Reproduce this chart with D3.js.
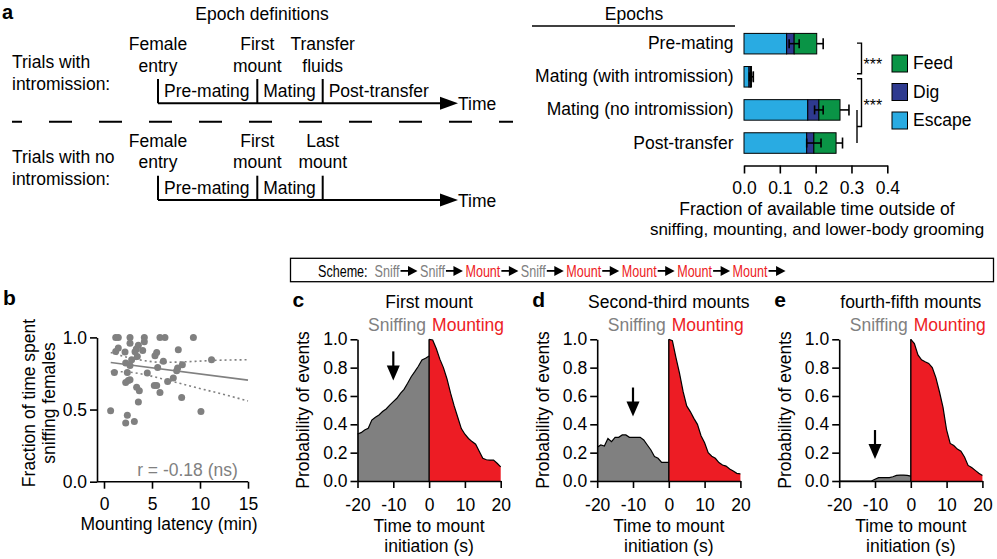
<!DOCTYPE html>
<html><head><meta charset="utf-8">
<script src="https://cdn.jsdelivr.net/npm/d3@7"></script>
<style>
body{margin:0;background:#fff;}
svg{display:block;font-family:"Liberation Sans",Arial,Helvetica,sans-serif;}
</style></head><body>
<svg id="c" width="997" height="559"></svg>
<script>
// ---------------- DATA ----------------
// Panel a (right): stacked bars
const epochs = ["Pre-mating", "Mating (with intromission)", "Mating (no intromission)", "Post-transfer"];
const escapeVals = [0.119, 0.014, 0.178, 0.175];
const digVals    = [0.021, 0.004, 0.031, 0.020];
const feedVals   = [0.063, 0.003, 0.059, 0.062];
const totalErr   = [0.018, 0.005, 0.025, 0.018];
const digErr     = [0.014, 0.003, 0.012, 0.020];
const barTicks   = [0, 0.1, 0.2, 0.3, 0.4];
const legendNames = ["Feed", "Dig", "Escape"];

// Panel b: scatter
const latency = [1.22,1.49,2.71,2.71,4.2,4.2,5.83,6.35,9.31,3.58,3.37,3.23,1.49,1.22,2.19,4.03,7.74,5.49,5.31,3.47,2.88,6.18,2.26,2.71,11.2,8.16,5.59,7.67,7.57,1.08,2.43,4.51,7.22,6.63,2.53,2.26,2.71,5.24,5.49,3.4,3.68,5.83,8.09,3.58,0.69,10.1,2.43,3.16,2.26];
const sniffFrac = [1.0,1.0,1.0,0.96,1.0,0.97,1.0,1.0,1.0,0.945,0.92,0.90,0.926,0.903,0.898,0.91,0.915,0.896,0.873,0.868,0.845,0.834,0.822,0.806,0.845,0.81,0.792,0.788,0.769,0.757,0.757,0.753,0.718,0.695,0.702,0.688,0.707,0.667,0.667,0.654,0.63,0.619,0.584,0.552,0.492,0.487,0.46,0.418,0.406];
const regX = [0.7, 15];
const regY = [0.826, 0.704];
const ciX = [0.7, 2.5, 4.3, 6, 9.5, 11.2, 15];
const ciUpper = [0.896, 0.861, 0.838, 0.827, 0.834, 0.840, 0.845];
const ciLower = [0.764, 0.760, 0.741, 0.714, 0.654, 0.626, 0.560];
const bXTicks = [0, 5, 10, 15];
const bYTicks = [0, 0.5, 1.0];

// Panels c-e: event-aligned probabilities
const tSniff = [-20,-19,-18,-17,-16,-15,-14,-13,-12,-11,-10,-9,-8,-7,-6,-5,-4,-3,-2,-1,0];
const tMount = [0,1,2,3,4,5,6,7,8,9,10,11,12,13,14,15,16,17,18,19,20];
const sniffC = [0.332,0.341,0.36,0.372,0.43,0.45,0.466,0.49,0.508,0.536,0.56,0.584,0.619,0.647,0.69,0.736,0.772,0.81,0.854,0.866,0.882];
const mountC = [1.0,0.995,0.935,0.86,0.8,0.72,0.62,0.53,0.45,0.37,0.33,0.30,0.278,0.26,0.21,0.16,0.15,0.148,0.147,0.125,0.10];
const sniffD = [0.238,0.254,0.247,0.30,0.278,0.308,0.308,0.325,0.325,0.308,0.308,0.308,0.308,0.29,0.254,0.219,0.172,0.16,0.132,0.132,0.132];
const mountD = [1.0,0.99,0.87,0.76,0.63,0.53,0.49,0.442,0.40,0.32,0.27,0.20,0.175,0.16,0.13,0.113,0.105,0.085,0.07,0.054,0.05];
const sniffE = [0,0,0,0,0,0,0,0,0,0,0.012,0.024,0.024,0.024,0.024,0.03,0.04,0.042,0.042,0.04,0.035];
const mountE = [1.0,0.97,0.89,0.855,0.842,0.83,0.80,0.73,0.63,0.52,0.36,0.265,0.25,0.225,0.21,0.17,0.11,0.095,0.075,0.055,0.038];
const panelTitles = ["First mount", "Second-third mounts", "fourth-fifth mounts"];
const panelLetters = ["c", "d", "e"];
const arrowTips = [0.71, 0.455, 0.155];
const cdeXTicks = [-20, -10, 0, 10, 20];
const cdeYTicks = [0, 0.2, 0.4, 0.6, 0.8, 1.0];

// Scheme tokens
const schemeTokens = ["Sniff","Sniff","Mount","Sniff","Mount","Mount","Mount","Mount"];

// ---------------- STYLE ----------------
const GRAY = "#808080", RED = "#ed1c24";
const C_ESC = "#29abe2", C_DIG = "#2e3a8f", C_FEED = "#0a9446";
const FS = 17.5;
const svg = d3.select("#c");
const hyphenFmt = (d) => String(d);

function txt(g, x, y, s, o = {}) {
  const t = g.append("text").attr("x", x).attr("y", y).text(s)
    .attr("font-size", o.size || FS).attr("text-anchor", o.anchor || "start")
    .attr("fill", o.fill || "#000");
  if (o.weight) t.attr("font-weight", o.weight);
  if (o.transform) t.attr("transform", o.transform);
  return t;
}
function styleAxis(g, size) {
  g.select(".domain").attr("stroke", "#000").attr("stroke-width", 1.6);
  g.selectAll(".tick line").attr("stroke", "#000").attr("stroke-width", 1.6);
  g.selectAll(".tick text").attr("font-size", size || FS).attr("fill", "#000")
    .attr("font-family", '"Liberation Sans", Arial, sans-serif');
}

// ---------------- PANEL a (left) ----------------
const gA = svg.append("g");
txt(gA, 2, 18.5, "a", {size: 20, weight: "bold"});
txt(gA, 262, 19.5, "Epoch definitions", {anchor: "middle"});
const eventX = [158, 257.3, 322.7];
const defRows = [
  {labels: ["Trials with", "intromission:"], labelY: [68.3, 90], events: [["Female","entry"],["First","mount"],["Transfer","fluids"]],
   eventY: [50, 72], tickTop: 79, axisY: 103.3, epochNames: ["Pre-mating","Mating","Post-transfer"], epochY: 96.7, timeY: 109.5},
  {labels: ["Trials with no", "intromission:"], labelY: [163.3, 185], events: [["Female","entry"],["First","mount"],["Last","mount"]],
   eventY: [146.7, 168.3], tickTop: 175.7, axisY: 200, epochNames: ["Pre-mating","Mating"], epochY: 194, timeY: 206.5}
];
defRows.forEach(r => {
  r.labels.forEach((l, i) => txt(gA, 12, r.labelY[i], l));
  r.events.forEach((ev, i) => {
    ev.forEach((l, j) => txt(gA, eventX[i], r.eventY[j], l, {anchor: "middle"}));
    gA.append("line").attr("x1", eventX[i]).attr("x2", eventX[i]).attr("y1", r.tickTop).attr("y2", r.axisY)
      .attr("stroke", "#000").attr("stroke-width", 2);
  });
  r.epochNames.forEach((l, i) => txt(gA, eventX[i] + 6, r.epochY, l));
  gA.append("line").attr("x1", 158).attr("x2", 446).attr("y1", r.axisY).attr("y2", r.axisY)
    .attr("stroke", "#000").attr("stroke-width", 2);
  gA.append("path").attr("d", `M440,${r.axisY - 6.5}L458,${r.axisY}L440,${r.axisY + 6.5}Z`).attr("fill", "#000");
  txt(gA, 458, r.timeY, "Time");
});
gA.append("line").attr("x1", 12).attr("x2", 513).attr("y1", 121.7).attr("y2", 121.7)
  .attr("stroke", "#000").attr("stroke-width", 2).attr("stroke-dasharray", "23,27").attr("stroke-dashoffset", 13);

// ---------------- PANEL a (right) ----------------
const gB = svg.append("g");
const xB = d3.scaleLinear().domain([0, 0.4]).range([744, 887.3]);
const yB = d3.scaleBand().domain(epochs).range([33.4, 153.3]).paddingInner(0.38).paddingOuter(0);
txt(gB, 634, 20, "Epochs", {anchor: "middle"});
gB.append("line").attr("x1", 532).attr("x2", 735).attr("y1", 26).attr("y2", 26).attr("stroke", "#000").attr("stroke-width", 1.5);
epochs.forEach((e, i) => {
  const y0 = yB(e), bh = yB.bandwidth(), cy = y0 + bh / 2;
  const segs = [[0, escapeVals[i], C_ESC], [escapeVals[i], escapeVals[i] + digVals[i], C_DIG],
                [escapeVals[i] + digVals[i], escapeVals[i] + digVals[i] + feedVals[i], C_FEED]];
  segs.forEach(s => gB.append("rect").attr("x", xB(s[0])).attr("y", y0).attr("width", xB(s[1]) - xB(s[0])).attr("height", bh)
    .attr("fill", s[2]).attr("stroke", "#000").attr("stroke-width", 1));
  const tot = segs[2][1], cum = segs[1][1];
  gB.append("line").attr("x1", xB(tot)).attr("x2", xB(tot + totalErr[i])).attr("y1", cy).attr("y2", cy).attr("stroke", "#000").attr("stroke-width", 1.6);
  gB.append("line").attr("x1", xB(tot + totalErr[i])).attr("x2", xB(tot + totalErr[i])).attr("y1", cy - 5.5).attr("y2", cy + 5.5).attr("stroke", "#000").attr("stroke-width", 1.6);
  gB.append("line").attr("x1", xB(cum - digErr[i])).attr("x2", xB(cum + digErr[i])).attr("y1", cy).attr("y2", cy).attr("stroke", "#000").attr("stroke-width", 1.6);
  [cum - digErr[i], cum + digErr[i]].forEach(v => gB.append("line").attr("x1", xB(v)).attr("x2", xB(v)).attr("y1", cy - 4.5).attr("y2", cy + 4.5).attr("stroke", "#000").attr("stroke-width", 1.6));
  txt(gB, 733.5, cy + 5.5, e, {anchor: "end"});
});
// significance brackets
const cen = epochs.map(e => yB(e) + yB.bandwidth() / 2);
const bx = 861.5, bl = 857;
function bracket(y1, y2) {
  gB.append("path").attr("d", `M${bl},${y1}H${bx}V${y2}H${bl}`).attr("fill", "none").attr("stroke", "#000").attr("stroke-width", 1.4);
}
bracket(cen[0] - 0.5, cen[1] - 3);
bracket(cen[1] + 2, (cen[2] + cen[3]) / 2);
gB.append("line").attr("x1", bl).attr("x2", bl).attr("y1", cen[2]).attr("y2", cen[3]).attr("stroke", "#000").attr("stroke-width", 1.4);
txt(gB, 863.5, (cen[0] + cen[1]) / 2 + 10, "***", {size: 16});
txt(gB, 863.5, (cen[1] + (cen[2] + cen[3]) / 2) / 2 + 9, "***", {size: 16});
// legend
const legCols = [C_FEED, C_DIG, C_ESC];
legendNames.forEach((n, i) => {
  const y = 55 + i * 28.5;
  gB.append("rect").attr("x", 892).attr("y", y).attr("width", 15.5).attr("height", 17).attr("fill", legCols[i]).attr("stroke", "#000").attr("stroke-width", 1);
  txt(gB, 913, y + 14, n);
});
const axB = gB.append("g").attr("transform", "translate(0,165.5)")
  .call(d3.axisBottom(xB).tickValues(barTicks).tickFormat(d3.format(".1f")).tickSize(8).tickSizeOuter(0).tickPadding(8));
styleAxis(axB);
txt(gB, 817, 214.5, "Fraction of available time outside of", {anchor: "middle"});
txt(gB, 817, 235, "sniffing, mounting, and lower-body grooming", {anchor: "middle", size: 17});

// ---------------- Scheme box ----------------
const gS = svg.append("g");
gS.append("rect").attr("x", 290.5).attr("y", 258.3).attr("width", 703).attr("height", 23.4).attr("fill", "none").attr("stroke", "#000").attr("stroke-width", 1.3);
const sk = 0.74;
const gSt = gS.append("g").attr("transform", `translate(318,277.3) scale(${sk},1)`);
let sx = 0;
const sch = txt(gSt, sx, 0, "Scheme:", {size: 17});
sx += sch.node().getComputedTextLength() + 7 / sk;
schemeTokens.forEach(tk => {
  const t = txt(gSt, sx, 0, tk, {size: 17, fill: tk === "Sniff" ? GRAY : RED});
  sx += t.node().getComputedTextLength() + 1 / sk;
  const L = 17 / sk, ay = -6.4;
  gSt.append("line").attr("x1", sx).attr("x2", sx + L - 8 / sk).attr("y1", ay).attr("y2", ay).attr("stroke", "#000").attr("stroke-width", 1.8);
  gSt.append("path").attr("d", `M${sx + L - 9.5 / sk},${ay - 5}L${sx + L},${ay}L${sx + L - 9.5 / sk},${ay + 5}Z`).attr("fill", "#000");
  sx += L + 2.5 / sk;
});

// ---------------- PANEL b ----------------
const gb = svg.append("g");
txt(gb, 3, 305, "b", {size: 21, weight: "bold"});
const xS = d3.scaleLinear().domain([0, 15]).range([104, 248]);
const yS = d3.scaleLinear().domain([0, 1]).range([481.7, 337.4]);
const axisXpos = 97;
gb.append("g").selectAll("circle").data(latency).join("circle")
  .attr("cx", (d) => xS(d)).attr("cy", (d, i) => yS(sniffFrac[i])).attr("r", 3.5).attr("fill", GRAY);
gb.append("path").attr("d", d3.line().x((d) => xS(d)).y((d, i) => yS(regY[i]))(regX))
  .attr("stroke", GRAY).attr("stroke-width", 1.6).attr("fill", "none");
[ciUpper, ciLower].forEach(arr => gb.append("path")
  .attr("d", d3.line().curve(d3.curveMonotoneX).x((d) => xS(d)).y((d, i) => yS(arr[i]))(ciX))
  .attr("stroke", GRAY).attr("stroke-width", 1.6).attr("fill", "none").attr("stroke-dasharray", "2,3"));
const axbX = gb.append("g").attr("transform", "translate(0,481.7)")
  .call(d3.axisBottom(xS).tickValues(bXTicks).tickFormat(hyphenFmt).tickSize(7).tickSizeOuter(0).tickPadding(9));
axbX.select(".domain").attr("d", `M${axisXpos},0H${xS(15)}`);
styleAxis(axbX);
const axbY = gb.append("g").attr("transform", `translate(${axisXpos},0)`)
  .call(d3.axisLeft(yS).tickValues(bYTicks).tickFormat(d3.format(".1f")).tickSize(7).tickSizeOuter(0).tickPadding(3));
styleAxis(axbY);
txt(gb, 169, 530, "Mounting latency (min)", {anchor: "middle"});
txt(gb, 0, 0, "Fraction of time spent", {anchor: "middle", transform: "translate(35,403) rotate(-90)"});
txt(gb, 0, 0, "sniffing females", {anchor: "middle", transform: "translate(55,403) rotate(-90)"});
txt(gb, 187.5, 476, "r = -0.18 (ns)", {anchor: "middle", fill: GRAY});

// ---------------- PANELS c, d, e ----------------
const panelLefts = [357.5, 597.2, 839.2];
const sniffSets = [sniffC, sniffD, sniffE];
const mountSets = [mountC, mountD, mountE];
panelLefts.forEach((left, p) => {
  const g = svg.append("g");
  const x = d3.scaleLinear().domain([-20, 20]).range([left, left + 143.2]);
  const y = d3.scaleLinear().domain([0, 1]).range([481, 339.3]);
  const sn = sniffSets[p], mo = mountSets[p];
  const area = (vals) => d3.area().x((d) => x(d)).y0(y(0)).y1((d, i) => y(vals[i]));
  const line = (vals) => d3.line().x((d) => x(d)).y((d, i) => y(vals[i]));
  g.append("path").attr("d", area(sn)(tSniff)).attr("fill", GRAY);
  g.append("path").attr("d", area(mo)(tMount)).attr("fill", RED);
  g.append("path").attr("d", line(sn)(tSniff)).attr("fill", "none").attr("stroke", "#000").attr("stroke-width", 1.2);
  g.append("path").attr("d", line(mo)(tMount)).attr("fill", "none").attr("stroke", "#000").attr("stroke-width", 1.2);
  g.append("line").attr("x1", x(0)).attr("x2", x(0)).attr("y1", y(0)).attr("y2", y(Math.max(mo[0], sn[sn.length - 1])))
    .attr("stroke", "#000").attr("stroke-width", 1.4);
  const ax = g.append("g").attr("transform", `translate(0,${y(0)})`)
    .call(d3.axisBottom(x).tickValues(cdeXTicks).tickFormat(hyphenFmt).tickSize(7).tickSizeOuter(0).tickPadding(11));
  styleAxis(ax);
  const ay = g.append("g").attr("transform", `translate(${left},0)`)
    .call(d3.axisLeft(y).tickValues(cdeYTicks).tickFormat(d3.format(".1f")).tickSize(7).tickSizeOuter(0).tickPadding(3));
  styleAxis(ay);
  // arrow
  const tipY = y(arrowTips[p]), ax0 = x(-10);
  g.append("line").attr("x1", ax0).attr("x2", ax0).attr("y1", tipY - 29).attr("y2", tipY - 12).attr("stroke", "#000").attr("stroke-width", 2.2);
  g.append("path").attr("d", `M${ax0 - 6.5},${tipY - 15}L${ax0 + 6.5},${tipY - 15}L${ax0},${tipY}Z`).attr("fill", "#000");
  txt(g, left - 65, 307, panelLetters[p], {size: 21, weight: "bold"});
  txt(g, x(0), 308, panelTitles[p], {anchor: "middle"});
  txt(g, x(0) - 3, 331, "Sniffing", {anchor: "end", fill: GRAY});
  txt(g, x(0) + 3, 331, "Mounting", {fill: RED});
  txt(g, x(0), 532, "Time to mount", {anchor: "middle"});
  txt(g, x(0), 552, "initiation (s)", {anchor: "middle"});
  txt(g, 0, 0, "Probability of events", {anchor: "middle", transform: `translate(${left - 48.5},410) rotate(-90)`});
});
</script>
</body></html>
